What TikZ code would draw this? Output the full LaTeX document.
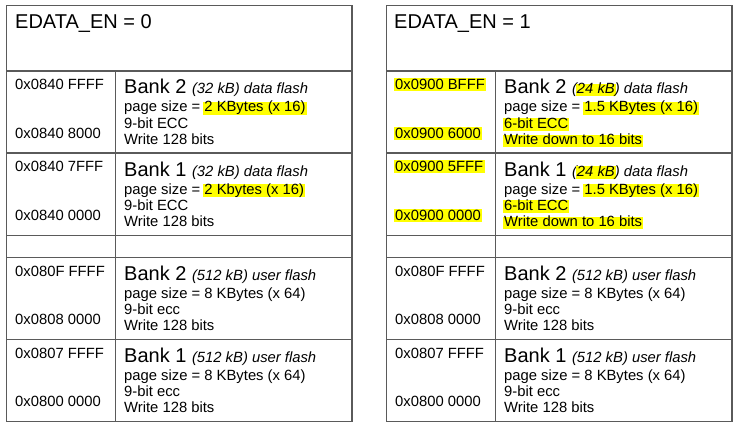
\documentclass[tikz,border=0pt]{standalone}
\usepackage{fontspec}
\setmainfont{Liberation Sans}
\definecolor{hly}{HTML}{FFFF00}
\definecolor{gridc}{HTML}{5A5A5A}
\newcommand\hlb[1]{\hspace{-1pt}{\setlength{\fboxsep}{0pt}\colorbox{hly}{\rule[-2.5pt]{0pt}{12.3pt}\hspace{1pt}\smash{#1}\hspace{1pt}}}\hspace{-1pt}}
\newcommand\hla[1]{\hspace{-1.5pt}{\setlength{\fboxsep}{0pt}\colorbox{hly}{\rule[-1.8pt]{0pt}{12.8pt}\hspace{1.5pt}\smash{#1}\hspace{1.5pt}}}\hspace{-1.5pt}}
\newcommand\bankt[2]{{\fontsize{20}{22}\selectfont #1 }{\itshape #2}}
\newcommand\bankrow[8]{%
  \node[txt] (#1-hi) at (15,#2+18.5) {#3};
  \node[txt] (#1-lo) at (15,#2+67.3) {#4};
  \node[txt] (#1-t) at (124,#2+23) {#5};
  \node[txt] (#1-p) at (124,#2+41) {#6};
  \node[txt] (#1-e) at (124,#2+57.2) {#7};
  \node[txt] (#1-w) at (124,#2+73.3) {#8};
}
\newcommand\tframe{%
  \draw[gridline] (6.5,5.5) rectangle (352,421.5);
  \foreach \yy in {71,153,235.5,257.5,339.5} \draw[gridline] (6.5,\yy) -- (352,\yy);
  \draw[gridline] (115.5,71) -- (115.5,421.5);
}
\begin{document}
\begin{tikzpicture}[x=1pt,y=-1pt,
  gridline/.style={draw=gridc, line width=1.1pt},
  txt/.style={anchor=base west, inner sep=0pt, font=\fontsize{14.8}{16}\selectfont},
  head/.style={anchor=base west, inner sep=0pt, font=\fontsize{20}{22}\selectfont}]
\useasboundingbox[fill=white] (0,0) rectangle (741,425);
% left table
\begin{scope}
  \tframe
  \node[head] (L-h) at (15,29) {EDATA\_EN = 0};
  \bankrow{L1}{71}{0x0840 FFFF}{0x0840 8000}{\bankt{Bank 2}{(32 kB) data flash}}{page size = \hlb{2 KBytes (x 16)}}{9-bit ECC}{Write 128 bits}
  \bankrow{L2}{153}{0x0840 7FFF}{0x0840 0000}{\bankt{Bank 1}{(32 kB) data flash}}{page size = \hlb{2 Kbytes (x 16)}}{9-bit ECC}{Write 128 bits}
  \bankrow{L3}{257.5}{0x080F FFFF}{0x0808 0000}{\bankt{Bank 2}{(512 kB) user flash}}{page size = 8 KBytes (x 64)}{9-bit ecc}{Write 128 bits}
  \bankrow{L4}{339.5}{0x0807 FFFF}{0x0800 0000}{\bankt{Bank 1}{(512 kB) user flash}}{page size = 8 KBytes (x 64)}{9-bit ecc}{Write 128 bits}
\end{scope}
% right table
\begin{scope}[xshift=380pt]
  \tframe
  \node[head] (R-h) at (14,29) {EDATA\_EN = 1};
  \bankrow{R1}{71}{\hla{0x0900 BFFF}}{\hla{0x0900 6000}}{\bankt{Bank 2}{(\hlb{24 kB}) data flash}}{page size = \hlb{1.5 KBytes (x 16)}}{\hlb{6-bit ECC}}{\hlb{Write down to 16 bits}}
  \bankrow{R2}{153}{\hla{0x0900 5FFF}}{\hla{0x0900 0000}}{\bankt{Bank 1}{(\hlb{24 kB}) data flash}}{page size = \hlb{1.5 KBytes (x 16)}}{\hlb{6-bit ECC}}{\hlb{Write down to 16 bits}}
  \bankrow{R3}{257.5}{0x080F FFFF}{0x0808 0000}{\bankt{Bank 2}{(512 kB) user flash}}{page size = 8 KBytes (x 64)}{9-bit ecc}{Write 128 bits}
  \bankrow{R4}{339.5}{0x0807 FFFF}{0x0800 0000}{\bankt{Bank 1}{(512 kB) user flash}}{page size = 8 KBytes (x 64)}{9-bit ecc}{Write 128 bits}
\end{scope}
\end{tikzpicture}
\end{document}
